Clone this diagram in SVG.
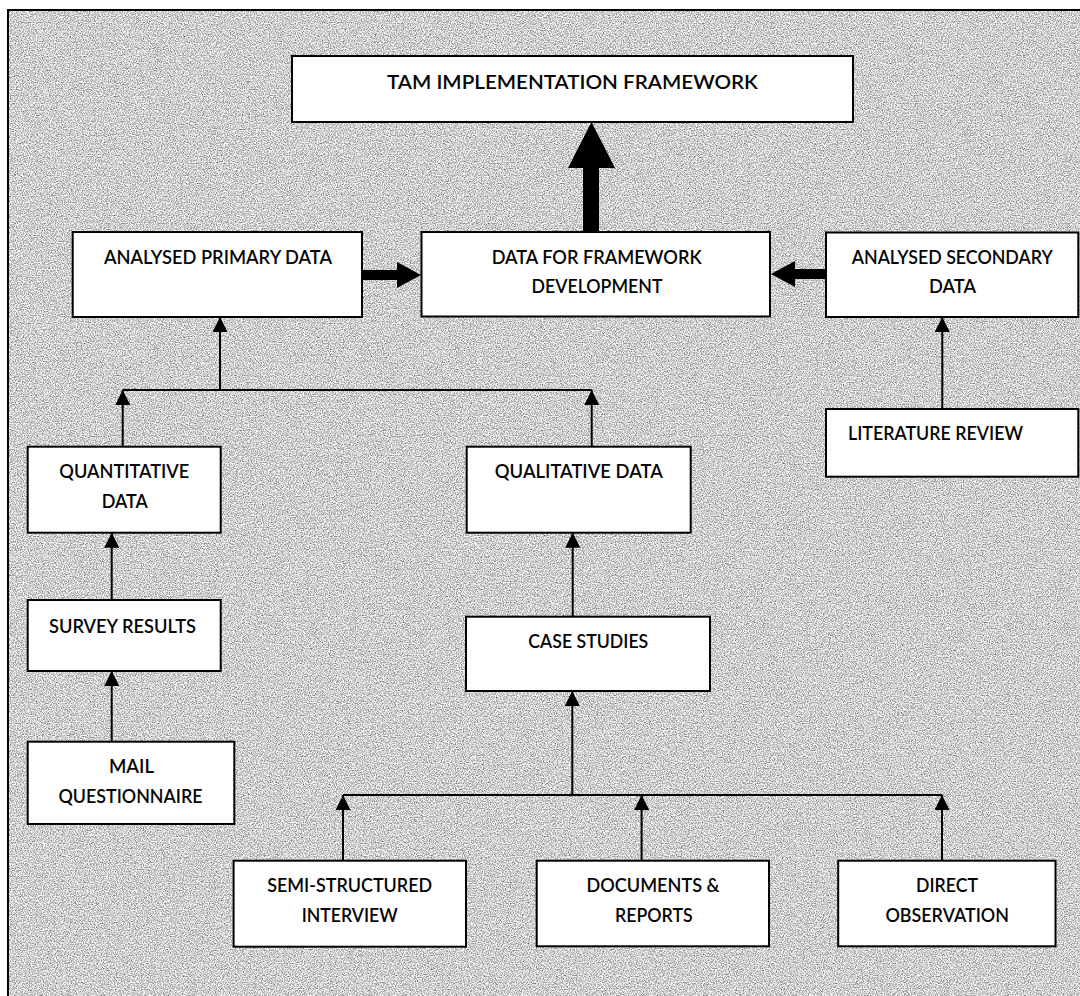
<svg xmlns="http://www.w3.org/2000/svg" width="1080" height="996" viewBox="0 0 1080 996">
  <defs>
    <!-- speckled grey paper texture for the panel -->
    <filter id="grain" x="0" y="0" width="100%" height="100%" color-interpolation-filters="sRGB">
      <feTurbulence type="fractalNoise" baseFrequency="0.85" numOctaves="2" seed="7" result="n"/>
      <feColorMatrix in="n" type="matrix" values="1.1 0 0 0 0.26  1.1 0 0 0 0.26  1.1 0 0 0 0.26  0 0 0 0 1"/>
    </filter>
    <marker id="arr" viewBox="0 0 15 15" refX="15" refY="7.5" markerWidth="15" markerHeight="15" markerUnits="userSpaceOnUse" orient="auto">
      <path d="M0,0 L15,7.5 L0,15 z" fill="#000"/>
    </marker>
    <style>
      .box { fill: #fff; stroke: #000; stroke-width: 2; }
      .lbl { font-family: "Lato", "Liberation Sans", sans-serif; font-size: 19px; font-weight: 600; fill: #050505; text-anchor: middle; }
      .ln { fill: none; stroke: #000; stroke-width: 2; }
      .ar { fill: none; stroke: #000; stroke-width: 2; marker-end: url(#arr); }
      .blk { fill: #000; }
    </style>
  </defs>

  <rect x="0" y="0" width="1080" height="996" fill="#fff"/>
  <!-- panel with textured fill -->
  <rect x="8" y="10" width="1100" height="1010" fill="#c8c8c8" filter="url(#grain)"/>
  <rect x="8" y="10" width="1100" height="1010" fill="none" stroke="#000" stroke-width="2"/>

  <g id="connectors">
    <!-- thick block arrows -->
    <polygon class="blk" points="583,232 583,168 568,168 591.5,122 615,168 599,168 599,232"/>
    <polygon class="blk" points="362,270 397,270 397,262 421,275 397,288 397,280 362,280"/>
    <polygon class="blk" points="826,269 795,269 795,261 771,274 795,287 795,279 826,279"/>

    <!-- primary data branch -->
    <line class="ln" x1="122.7" y1="390" x2="591.7" y2="390"/>
    <line class="ar" x1="220" y1="390" x2="220" y2="317"/>
    <line class="ar" x1="122.7" y1="446.7" x2="122.7" y2="390"/>
    <line class="ar" x1="591.7" y1="446.7" x2="591.7" y2="390"/>
    <line class="ar" x1="111.7" y1="600" x2="111.7" y2="532.7"/>
    <line class="ar" x1="111.7" y1="741.7" x2="111.7" y2="671"/>
    <line class="ar" x1="572.7" y1="616.7" x2="572.7" y2="532.7"/>

    <!-- case study sources -->
    <line class="ln" x1="343" y1="795" x2="942" y2="795"/>
    <line class="ar" x1="572.3" y1="795" x2="572.3" y2="691"/>
    <line class="ar" x1="343" y1="860.7" x2="343" y2="795"/>
    <line class="ar" x1="641.6" y1="860.7" x2="641.6" y2="795"/>
    <line class="ar" x1="942" y1="860.7" x2="942" y2="795"/>

    <!-- secondary data -->
    <line class="ar" x1="942.3" y1="409" x2="942.3" y2="317"/>
  </g>

  <g id="tam">
    <rect class="box" x="292" y="56" width="561" height="66"/>
    <text class="lbl" x="572.5" y="89" font-size="20.5" textLength="371" lengthAdjust="spacingAndGlyphs">TAM IMPLEMENTATION FRAMEWORK</text>
  </g>
  <g id="analysed-primary">
    <rect class="box" x="72.7" y="232" width="289.3" height="85"/>
    <text class="lbl" x="218" y="264" textLength="228" lengthAdjust="spacingAndGlyphs">ANALYSED PRIMARY DATA</text>
  </g>
  <g id="framework-data">
    <rect class="box" x="421.5" y="232" width="348.5" height="84.5"/>
    <text class="lbl" x="596.7" y="264" textLength="210" lengthAdjust="spacingAndGlyphs">DATA FOR FRAMEWORK</text>
    <text class="lbl" x="597" y="293" textLength="131" lengthAdjust="spacingAndGlyphs">DEVELOPMENT</text>
  </g>
  <g id="analysed-secondary">
    <rect class="box" x="826" y="232.5" width="252.3" height="84.5"/>
    <text class="lbl" x="952.3" y="263.5" textLength="201" lengthAdjust="spacingAndGlyphs">ANALYSED SECONDARY</text>
    <text class="lbl" x="952.5" y="293.3" textLength="47" lengthAdjust="spacingAndGlyphs">DATA</text>
  </g>
  <g id="literature-review">
    <rect class="box" x="826" y="409" width="252.3" height="67.7"/>
    <text class="lbl" x="935.5" y="440" textLength="175" lengthAdjust="spacingAndGlyphs">LITERATURE REVIEW</text>
  </g>
  <g id="quantitative">
    <rect class="box" x="27.7" y="446.7" width="193" height="86"/>
    <text class="lbl" x="124.3" y="478.3" textLength="130" lengthAdjust="spacingAndGlyphs">QUANTITATIVE</text>
    <text class="lbl" x="124.7" y="508.3" textLength="46" lengthAdjust="spacingAndGlyphs">DATA</text>
  </g>
  <g id="qualitative">
    <rect class="box" x="466.7" y="446.7" width="224" height="86"/>
    <text class="lbl" x="578.8" y="478.3" textLength="168" lengthAdjust="spacingAndGlyphs">QUALITATIVE DATA</text>
  </g>
  <g id="survey-results">
    <rect class="box" x="27.7" y="600" width="193" height="71"/>
    <text class="lbl" x="122.5" y="633.3" textLength="147" lengthAdjust="spacingAndGlyphs">SURVEY RESULTS</text>
  </g>
  <g id="case-studies">
    <rect class="box" x="466" y="616.7" width="244" height="74.3"/>
    <text class="lbl" x="588.3" y="648.3" textLength="120" lengthAdjust="spacingAndGlyphs">CASE STUDIES</text>
  </g>
  <g id="mail-questionnaire">
    <rect class="box" x="27.7" y="741.7" width="206.6" height="82.3"/>
    <text class="lbl" x="131.5" y="773.3" textLength="45" lengthAdjust="spacingAndGlyphs">MAIL</text>
    <text class="lbl" x="130.5" y="802.7" textLength="144" lengthAdjust="spacingAndGlyphs">QUESTIONNAIRE</text>
  </g>
  <g id="semi-structured-interview">
    <rect class="box" x="233.6" y="860.7" width="232.4" height="86"/>
    <text class="lbl" x="349.7" y="891.7" textLength="165" lengthAdjust="spacingAndGlyphs">SEMI-STRUCTURED</text>
    <text class="lbl" x="349.7" y="921.7" textLength="96" lengthAdjust="spacingAndGlyphs">INTERVIEW</text>
  </g>
  <g id="documents-reports">
    <rect class="box" x="536.7" y="860.7" width="232.3" height="85.6"/>
    <text class="lbl" x="653" y="891.7" textLength="133" lengthAdjust="spacingAndGlyphs">DOCUMENTS &amp;</text>
    <text class="lbl" x="653.8" y="921.7" textLength="77.5" lengthAdjust="spacingAndGlyphs">REPORTS</text>
  </g>
  <g id="direct-observation">
    <rect class="box" x="838.2" y="860.7" width="217.3" height="85.6"/>
    <text class="lbl" x="947" y="891.7" textLength="62" lengthAdjust="spacingAndGlyphs">DIRECT</text>
    <text class="lbl" x="947.2" y="921.7" textLength="123.6" lengthAdjust="spacingAndGlyphs">OBSERVATION</text>
  </g>
</svg>
